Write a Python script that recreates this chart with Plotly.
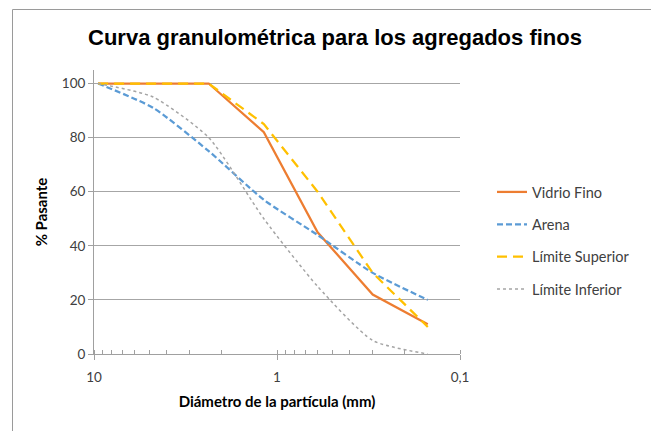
import plotly.graph_objects as go

# Sieve openings (mm)
diametro = [9.5, 4.75, 2.36, 1.18, 0.6, 0.3, 0.15]

vidrio_fino = [100, 100, 100, 82, 45, 22, 11]
arena = [100, 91, 75, 57, 44, 30, 20]
limite_superior = [100, 100, 100, 85, 60, 30, 10]
limite_inferior = [100, 95, 80, 50, 25, 5, 0]

x_tickvals = [10, 1, 0.1]
x_ticktext = ["10", "1", "0,1"]
y_tickvals = [0, 20, 40, 60, 80, 100]

fig = go.Figure()
fig.add_trace(go.Scatter(x=diametro, y=vidrio_fino, mode="lines", name="Vidrio Fino", legendgroup="a",
                         line=dict(color="#ED7D31", width=2.25)))
fig.add_trace(go.Scatter(x=diametro, y=arena, mode="lines", name="Arena", legendgroup="b",
                         line=dict(color="#5B9BD5", width=2.25, dash="6px,3px", shape="spline", smoothing=0.6)))
fig.add_trace(go.Scatter(x=diametro, y=limite_superior, mode="lines", name="Límite Superior", legendgroup="c",
                         line=dict(color="#FFC000", width=2.25, dash="10px,6px")))
fig.add_trace(go.Scatter(x=diametro, y=limite_inferior, mode="lines", name="Límite Inferior", legendgroup="d",
                         line=dict(color="#A5A5A5", width=1.5, dash="dot", shape="spline", smoothing=0.6)))

# page body has an 8px margin; figure coordinates are screen coordinates minus 8
OFF = 8
W, H = 659 - OFF, 431 - OFF
L = 94 - OFF
T = 70 - OFF
R = W - (460 - OFF)
B = H - (354 - OFF)
pw = W - L - R
ph = H - T - B
plot_bottom = 354 - OFF

fig.update_layout(
    width=W, height=H,
    margin=dict(l=L, r=R, t=T, b=B, autoexpand=False),
    paper_bgcolor="white", plot_bgcolor="white",
    title=dict(text="<b>Curva granulométrica para los agregados finos</b>",
               font=dict(family="Liberation Sans", size=22, color="black"),
               x=(335 - OFF) / W, xanchor="center", y=1 - (37 - OFF) / H, yanchor="middle",
               xref="container", yref="container"),
    font=dict(family="Lato", size=13.5, color="#404040"),
    legend=dict(x=(492 - OFF - L) / pw, y=(plot_bottom - (176 - OFF)) / ph, xanchor="left", yanchor="top",
                font=dict(family="Lato", size=14.5, color="#404040"),
                tracegroupgap=10.5, itemwidth=30, bgcolor="rgba(0,0,0,0)"),
    xaxis=dict(type="log", range=[1, -1], tickvals=x_tickvals, ticktext=x_ticktext,
               automargin=False,
               showgrid=False, showline=True, linecolor="#A0A0A0", linewidth=1,
               ticks="outside", ticklen=5, tickcolor="#A0A0A0", ticklabelstandoff=6,
               tickfont=dict(family="Lato", size=13.5, color="#404040"),
               minor=dict(ticks="inside", ticklen=4, tickcolor="#A0A0A0", showgrid=False, dtick="D1"),
               zeroline=False,
               title=dict(text="<b>Diámetro de la partícula (mm)</b>",
                          font=dict(family="Lato", size=15, color="black"), standoff=12)),
    yaxis=dict(range=[0, 105], tickvals=y_tickvals, showgrid=True, gridcolor="#A6A6A6",
               automargin=False,
               gridwidth=1, showline=True, linecolor="#A0A0A0", linewidth=1,
               ticks="outside", ticklen=5, tickcolor="#A0A0A0",
               tickfont=dict(family="Lato", size=13.5, color="#404040"), zeroline=False,
               title=dict(text="<b>% Pasante</b>", font=dict(family="Lato", size=15, color="black"),
                          standoff=10)),
    shapes=[dict(type="rect", xref="paper", yref="paper",
                 x0=(12.5 - OFF - L) / pw, x1=(655.5 - OFF - L) / pw,
                 y0=(plot_bottom - (440 - OFF)) / ph, y1=(plot_bottom - (9.5 - OFF)) / ph,
                 line=dict(color="#9A9A9A", width=1), fillcolor="rgba(0,0,0,0)", layer="above")],
)

fig.write_html("out.html")
